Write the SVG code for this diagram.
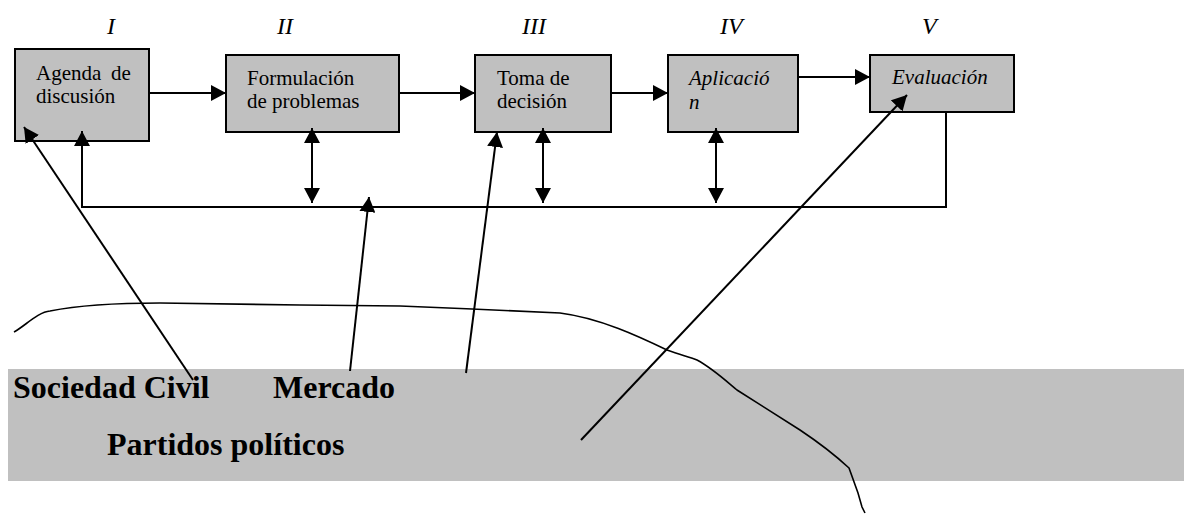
<svg xmlns="http://www.w3.org/2000/svg" width="1184" height="514" viewBox="0 0 1184 514">
<style>
.box{fill:#c0c0c0;stroke:#000;stroke-width:2}
.t{font-family:"Liberation Serif","Times New Roman",Tinos,Times,"Noto Serif","DejaVu Serif",serif;font-size:21px;fill:#000}
.it{font-style:italic}
.num{font-family:"Liberation Serif","Times New Roman",Tinos,Times,"Noto Serif","DejaVu Serif",serif;font-size:24px;font-style:italic;fill:#000}
.big{font-family:"Liberation Serif","Times New Roman",Tinos,Times,"Noto Serif","DejaVu Serif",serif;font-size:32px;font-weight:bold;fill:#000}
.ln{fill:none;stroke:#000;stroke-width:2}
.thin{fill:none;stroke:#000;stroke-width:1.6}
</style>
<defs>
<marker id="ah" viewBox="0 0 15 16" refX="15" refY="8" markerWidth="15" markerHeight="16" markerUnits="userSpaceOnUse" orient="auto-start-reverse">
<path d="M0,0 L15,8 L0,16 z" fill="#000"/>
</marker>
</defs>
<rect id="band" x="8" y="369" width="1176" height="112" fill="#c0c0c0"/>
<g id="labels-roman">
<text class="num" x="107" y="34">I</text>
<text class="num" x="277" y="34">II</text>
<text class="num" x="522" y="34">III</text>
<text class="num" x="720" y="34">IV</text>
<text class="num" x="922" y="34">V</text>
</g>
<g id="n1"><rect class="box" x="15" y="49" width="134" height="92"/>
<text class="t" y="80"><tspan x="36">Agenda</tspan><tspan x="111">de</tspan></text>
<text class="t" x="36" y="103">discusión</text></g>
<g id="n2"><rect class="box" x="226" y="55" width="173" height="77"/>
<text class="t" x="247" y="85">Formulación</text>
<text class="t" x="247" y="108">de problemas</text></g>
<g id="n3"><rect class="box" x="475" y="55" width="136" height="77"/>
<text class="t" x="497" y="85">Toma de</text>
<text class="t" x="497" y="108">decisión</text></g>
<g id="n4"><rect class="box" x="668" y="55" width="130" height="77"/>
<text class="t it" x="689" y="85">Aplicació</text>
<text class="t it" x="689" y="109">n</text></g>
<g id="n5"><rect class="box" x="870" y="55" width="144" height="57"/>
<text class="t it" x="892" y="84">Evaluación</text></g>
<g id="actors">
<text class="big" x="13" y="398">Sociedad Civil</text>
<text class="big" x="273" y="398">Mercado</text>
<text class="big" x="107" y="455">Partidos políticos</text>
</g>
<g id="connectors">
<line class="ln" x1="149" y1="93" x2="226" y2="93" marker-end="url(#ah)"/>
<line class="ln" x1="399" y1="93" x2="475" y2="93" marker-end="url(#ah)"/>
<line class="ln" x1="611" y1="93" x2="668" y2="93" marker-end="url(#ah)"/>
<line class="ln" x1="798" y1="77" x2="870" y2="77" marker-end="url(#ah)"/>
<polyline class="ln" points="946,112 946,207 82,207 82,131" marker-end="url(#ah)"/>
<line class="ln" x1="312" y1="128" x2="312" y2="203" marker-start="url(#ah)" marker-end="url(#ah)"/>
<line class="ln" x1="543" y1="128" x2="543" y2="203" marker-start="url(#ah)" marker-end="url(#ah)"/>
<line class="ln" x1="716" y1="128" x2="716" y2="203" marker-start="url(#ah)" marker-end="url(#ah)"/>
<line class="ln" x1="193" y1="380" x2="24" y2="127" marker-end="url(#ah)"/>
<line class="ln" x1="350" y1="371" x2="369" y2="197" marker-end="url(#ah)"/>
<line class="ln" x1="466" y1="373" x2="497" y2="132" marker-end="url(#ah)"/>
<line class="ln" x1="581" y1="440" x2="907" y2="95" marker-end="url(#ah)"/>
<path class="thin" d="M14,332 C25,326 38,312 50,311 C80,305 110,303 160,303 L300,305 L400,306 C450,308 520,311 560,313 C600,318 640,337 667,350 C680,355 690,357 697,360 C712,368 725,380 737,390 L800,430 C815,440 835,455 849,468 L858,493 L862,507 L865,513"/>
</g>
</svg>
